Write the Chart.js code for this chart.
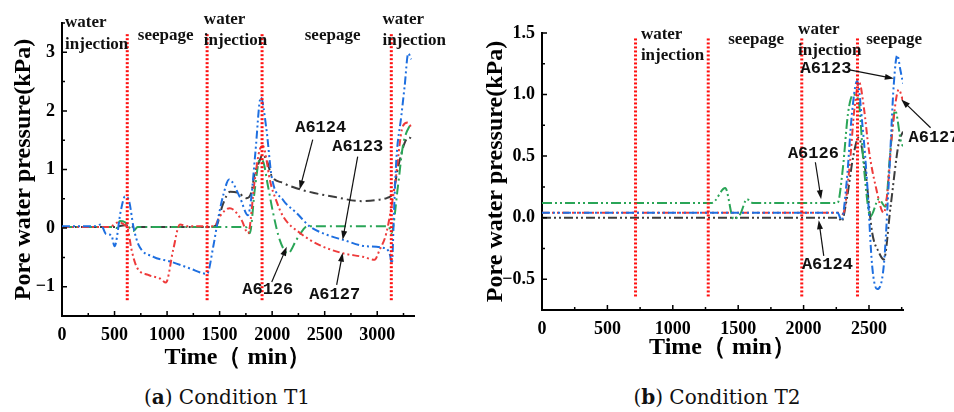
<!DOCTYPE html>
<html>
<head>
<meta charset="utf-8">
<script src="https://cdn.jsdelivr.net/npm/chart.js@4.4.1/dist/chart.umd.min.js"></script>
<style>
  body { margin: 0; width: 954px; height: 412px; background: #fff; position: relative; overflow: hidden; }
  canvas { position: absolute; top: 0; }
  .legenda { position: absolute; top: 385px; font-family: "DejaVu Serif", serif; font-size: 20px; color: #111; transform: translateX(-50%); white-space: nowrap; }
</style>
</head>
<body>
<canvas id="graficoA" width="477" height="380" style="left:0"></canvas>
<canvas id="graficoB" width="477" height="380" style="left:477px"></canvas>
<div class="legenda" style="left:227px">(<b>a</b>) Condition T1</div>
<div class="legenda" style="left:717px">(<b>b</b>) Condition T2</div>
<script>
/* ================= DADOS (a) Condition T1 ================= */
const tA6124a = [0, 300, 500, 600, 700, 1000, 1400, 1470, 1530, 1600, 1680, 1756, 1800, 1835, 1870, 1910, 1950, 1993, 2104, 2231, 2400, 2600, 2850, 3000, 3100, 3150, 3200, 3260, 3300, 3330];
const pA6124a = [0.02, 0.02, 0.02, 0.05, 0.02, 0.02, 0.02, 0.05, 0.4, 0.62, 0.6, 0.51, 0.6, 0.94, 1.1, 1.25, 1.15, 0.9, 0.77, 0.68, 0.6, 0.53, 0.46, 0.48, 0.52, 0.6, 1.05, 1.45, 1.55, 1.52];

const tA6123a = [0, 300, 370, 420, 470, 500, 560, 600, 640, 680, 730, 870, 1030, 1220, 1340, 1380, 1440, 1490, 1540, 1590, 1690, 1770, 1800, 1840, 1892, 1946, 1995, 2104, 2231, 2357, 2500, 2674, 2896, 3086, 3120, 3140, 3160, 3182, 3229, 3261, 3295, 3325];
const pA6123a = [0.03, 0.03, 0.06, -0.1, -0.12, -0.31, 0.3, 0.54, 0.45, 0.02, -0.29, -0.49, -0.57, -0.69, -0.77, -0.78, -0.31, 0.2, 0.6, 0.83, 0.54, 0.22, 0.5, 1.28, 2.23, 1.68, 0.88, 0.48, 0.26, 0.03, -0.1, -0.2, -0.31, -0.35, -0.45, -0.6, 0.3, 1.17, 1.91, 2.42, 2.98, 2.88];

const tA6127a = [0, 450, 540, 600, 625, 662, 710, 821, 932, 989, 1058, 1122, 1200, 1450, 1502, 1597, 1708, 1771, 1835, 1882, 1914, 1946, 1977, 2041, 2104, 2262, 2452, 2674, 2864, 2975, 3023, 3086, 3166, 3244, 3290, 3325];
const pA6127a = [0.02, 0.02, 0.1, 0.05, 0.0, -0.37, -0.66, -0.8, -0.86, -0.93, -0.37, 0.06, 0.03, 0.03, 0.2, 0.34, 0.14, -0.09, 0.83, 1.34, 1.4, 1.17, 0.83, 0.46, 0.2, -0.08, -0.29, -0.43, -0.49, -0.54, -0.37, -0.09, 0.71, 1.74, 1.8, 1.72];

const tA6126a = [0, 480, 520, 550, 600, 680, 720, 1000, 1500, 1750, 1787, 1835, 1882, 1910, 1961, 2009, 2072, 2151, 2231, 2294, 2330, 2500, 3000, 3110, 3134, 3197, 3244, 3308, 3330];
const pA6126a = [0.02, 0.02, 0.0, 0.12, 0.1, -0.05, 0.02, 0.02, 0.02, 0.02, -0.09, 0.66, 1.17, 1.15, 0.71, 0.26, -0.2, -0.43, -0.2, -0.03, 0.03, 0.03, 0.03, 0.03, -0.09, 0.71, 1.4, 1.74, 1.77];

const limitesA = [621, 1381, 1904, 3134];
const alturaLimitesA = [-1.23, 3.34];
const ticksXA = [0, 500, 1000, 1500, 2000, 2500, 3000];
const ticksYA = [-1, 0, 1, 2, 3];

/* ================= DADOS (b) Condition T2 ================= */
const tA6126b = [0, 1300, 1401, 1465, 1516, 1567, 1610, 2260, 2300, 2340, 2380, 2420, 2460, 2511, 2575, 2626, 2660, 2700, 2746, 2760];
const pA6126b = [0.12, 0.12, 0.24, -0.01, 0.03, 0.15, 0.12, 0.12, 0.4, 0.85, 1.0, 0.95, 0.42, 0.01, 0.15, 0.09, 0.5, 0.87, 0.61, 0.58];

const tA6123b = [0, 2260, 2290, 2330, 2370, 2409, 2450, 2486, 2524, 2562, 2613, 2651, 2690, 2716, 2740, 2760];
const pA6123b = [0.04, 0.04, -0.02, 0.3, 0.85, 1.11, 0.75, 0.28, -0.39, -0.58, -0.39, 0.28, 1.09, 1.32, 1.2, 1.09];

const tA6127b = [0, 2270, 2300, 2350, 2390, 2425, 2460, 2499, 2550, 2613, 2640, 2677, 2728, 2760];
const pA6127b = [0.04, 0.04, 0.03, 0.4, 0.9, 1.1, 0.9, 0.55, 0.26, 0.04, 0.2, 0.69, 1.04, 0.95];

const tA6124b = [0, 2270, 2290, 2330, 2380, 2420, 2470, 2524, 2575, 2613, 2665, 2728, 2760];
const pA6124b = [0.0, 0.0, -0.03, 0.15, 0.5, 0.65, 0.4, -0.12, -0.28, -0.34, 0.09, 0.61, 0.7];

const limitesB = [715, 1271, 1986, 2412];
const alturaLimitesB = [-0.64, 1.46];
const ticksXB = [0, 500, 1000, 1500, 2000, 2500];
const ticksYB = [-0.5, 0.0, 0.5, 1.0, 1.5];

/* ================= ESTILO ================= */
const PRETO = "#3c3c3c", AZUL = "#1e6fe0", VERMELHO = "#ee3b3b", VERDE = "#2aa557";
const SERIF = "'Liberation Serif', 'Times New Roman', serif";
const MONO = "'Liberation Mono', monospace";

const pontos = (t, p) => t.map((v, i) => ({ x: v, y: p[i] }));

function serie(t, p, cor, traco) {
  return {
    data: pontos(t, p), borderColor: cor, borderWidth: 2, borderDash: traco,
    pointRadius: 0, cubicInterpolationMode: "monotone", fill: false
  };
}

function limites(xs, alt) {
  return xs.map(x => ({
    data: [{ x, y: alt[0] }, { x, y: alt[1] }],
    borderColor: "#ff1010", borderWidth: 3, borderDash: [2, 2],
    pointRadius: 0, fill: false
  }));
}

const menos = s => String(s).replace("-", "\u2212");

/* ================= PLUGIN (ticks, textos, setas) ================= */
const decoracao = {
  id: "decoracao",
  afterDraw(chart, args, o) {
    const { ctx, scales: { x, y } } = chart;
    const X = v => x.getPixelForValue(v), Y = v => y.getPixelForValue(v);
    ctx.save();

    // ticks para dentro
    ctx.strokeStyle = "#000";
    ctx.lineWidth = 1.5;
    ctx.beginPath();
    for (let v = o.xPasso / 2; v <= x.max; v += o.xPasso / 2) {
      const maior = Math.abs(v / o.xPasso - Math.round(v / o.xPasso)) < 1e-6;
      ctx.moveTo(X(v), y.bottom); ctx.lineTo(X(v), y.bottom - (maior ? 5 : 3));
    }
    for (let v = y.min; v <= y.max + 1e-9; v += o.yPasso / 2) {
      const maior = Math.abs(v / o.yPasso - Math.round(v / o.yPasso)) < 1e-6;
      ctx.moveTo(x.left, Y(v)); ctx.lineTo(x.left + (maior ? 5 : 3), Y(v));
    }
    ctx.stroke();

    // textos das fases
    ctx.fillStyle = "#111";
    ctx.font = "bold 17px " + SERIF;
    ctx.textAlign = "left";
    ctx.textBaseline = "middle";
    o.fases.forEach(f => ctx.fillText(f.t, X(f.x), Y(f.y)));

    // setas e nomes dos sensores
    o.setas.forEach(s => {
      ctx.font = "bold 17px " + MONO;
      ctx.textAlign = s.alinha || "center";
      ctx.fillStyle = "#111";
      ctx.fillText(s.t, X(s.lx), Y(s.ly));
      const x0 = X(s.de[0]), y0 = Y(s.de[1]), x1 = X(s.para[0]), y1 = Y(s.para[1]);
      const ang = Math.atan2(y1 - y0, x1 - x0);
      ctx.strokeStyle = "#111";
      ctx.lineWidth = 1.2;
      ctx.beginPath();
      ctx.moveTo(x0, y0);
      ctx.lineTo(x1 - 6 * Math.cos(ang), y1 - 6 * Math.sin(ang));
      ctx.stroke();
      ctx.beginPath();
      ctx.moveTo(x1, y1);
      ctx.lineTo(x1 - 9 * Math.cos(ang) + 3 * Math.sin(ang), y1 - 9 * Math.sin(ang) - 3 * Math.cos(ang));
      ctx.lineTo(x1 - 9 * Math.cos(ang) - 3 * Math.sin(ang), y1 - 9 * Math.sin(ang) + 3 * Math.cos(ang));
      ctx.closePath();
      ctx.fill();
    });
    ctx.restore();
  }
};

/* ================= GRAFICO ================= */
function criarGrafico(id, cfg) {
  return new Chart(document.getElementById(id), {
    type: "line",
    data: { datasets: cfg.datasets },
    plugins: [decoracao],
    options: {
      responsive: false,
      animation: false,
      devicePixelRatio: 1,
      layout: { padding: cfg.padding },
      plugins: { legend: { display: false }, tooltip: { enabled: false }, decoracao: cfg.deco },
      scales: {
        x: {
          type: "linear", min: 0, max: cfg.xMax,
          afterBuildTicks: s => { s.ticks = cfg.ticksX.map(v => ({ value: v })); },
          afterFit: s => { s.height = cfg.alturaX; },
          grid: { display: false, drawTicks: false },
          border: { display: true, color: "#000", width: 2 },
          ticks: { color: "#000", padding: 9, maxRotation: 0, autoSkip: false, callback: v => String(v), font: { family: SERIF, size: 18, weight: "bold" } },
          title: { display: true, text: "Time（ min）", color: "#000", padding: { top: 0, bottom: cfg.tituloX }, font: { family: SERIF, size: 24, weight: "bold" } }
        },
        y: {
          type: "linear", min: cfg.yMin, max: cfg.yMax,
          afterBuildTicks: s => { s.ticks = cfg.ticksY.map(v => ({ value: v })); },
          afterFit: s => { s.width = cfg.larguraY; },
          grid: { display: false, drawTicks: false },
          border: { display: true, color: "#000", width: 2 },
          ticks: { color: "#000", padding: 7, callback: cfg.formato, font: { family: SERIF, size: 18, weight: "bold" } },
          title: { display: true, text: "Pore water pressure(kPa)", color: "#000", padding: { top: cfg.tituloY, bottom: 0 }, font: { family: SERIF, size: 24, weight: "bold" } }
        }
      }
    }
  });
}

criarGrafico("graficoA", {
  datasets: [
    ...limites(limitesA, alturaLimitesA),
    serie(tA6123a, pA6123a, AZUL, [8, 3, 2, 3, 2, 3]),
    serie(tA6127a, pA6127a, VERMELHO, [7, 3, 2, 3, 2, 3]),
    serie(tA6126a, pA6126a, VERDE, [10, 4, 2, 4]),
    serie(tA6124a, pA6124a, PRETO, [9, 4, 2, 4])
  ],
  padding: { left: 0, top: 23, right: 63, bottom: 0 },
  xMax: 3350, yMin: -1.5, yMax: 3.5,
  ticksX: ticksXA, ticksY: ticksYA,
  alturaX: 64, larguraY: 62, tituloX: 8, tituloY: 9,
  formato: v => menos(v),
  deco: {
    xPasso: 500, yPasso: 1,
    fases: [
      { t: "water", x: 29, y: 3.5 }, { t: "injection", x: 29, y: 3.13 },
      { t: "seepage", x: 722, y: 3.29 },
      { t: "water", x: 1350, y: 3.55 }, { t: "injection", x: 1350, y: 3.2 },
      { t: "seepage", x: 2310, y: 3.29 },
      { t: "water", x: 3051, y: 3.55 }, { t: "injection", x: 3051, y: 3.2 }
    ],
    setas: [
      { t: "A6124", lx: 2462, ly: 1.72, de: [2386, 1.51], para: [2262, 0.66] },
      { t: "A6123", lx: 2814, ly: 1.39, de: [2814, 1.22], para: [2671, -0.2] },
      { t: "A6126", lx: 1958, ly: -1.05, de: [1996, -0.92], para: [2139, -0.32] },
      { t: "A6127", lx: 2595, ly: -1.14, de: [2614, -0.97], para: [2671, -0.42] }
    ]
  }
});

criarGrafico("graficoB", {
  datasets: [
    ...limites(limitesB, alturaLimitesB),
    serie(tA6123b, pA6123b, AZUL, [8, 3, 2, 3, 2, 3]),
    serie(tA6127b, pA6127b, VERMELHO, [7, 3, 2, 3, 2, 3]),
    serie(tA6126b, pA6126b, VERDE, [10, 3, 2, 3, 2, 3]),
    serie(tA6124b, pA6124b, PRETO, [9, 3, 2, 3, 2, 3])
  ],
  padding: { left: 0, top: 33, right: 51, bottom: 0 },
  xMax: 2760, yMin: -0.75, yMax: 1.5,
  ticksX: ticksXB, ticksY: ticksYB,
  alturaX: 70, larguraY: 65, tituloX: 18, tituloY: 4,
  formato: v => menos(v.toFixed(1)),
  deco: {
    xPasso: 500, yPasso: 0.5,
    fases: [
      { t: "water", x: 756, y: 1.49 }, { t: "injection", x: 756, y: 1.32 },
      { t: "seepage", x: 1424, y: 1.45 },
      { t: "water", x: 1958, y: 1.53 }, { t: "injection", x: 1958, y: 1.36 },
      { t: "seepage", x: 2479, y: 1.45 }
    ],
    setas: [
      { t: "A6123", lx: 2171, ly: 1.21, de: [2351, 1.2], para: [2690, 1.13] },
      { t: "A6127", lx: 2802, ly: 0.65, alinha: "left", de: [2971, 0.73], para: [2747, 0.96] },
      { t: "A6126", lx: 2075, ly: 0.52, de: [2090, 0.45], para: [2134, 0.15] },
      { t: "A6124", lx: 2182, ly: -0.38, de: [2154, -0.31], para: [2116, -0.02] }
    ]
  }
});
</script>
</body>
</html>
